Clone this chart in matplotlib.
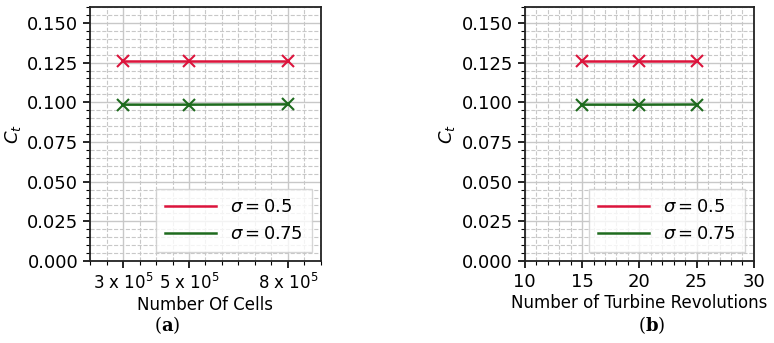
import matplotlib
matplotlib.use('Agg')
import matplotlib.pyplot as plt
from matplotlib.ticker import MultipleLocator, FixedLocator

plt.rcParams['font.family'] = ['DejaVu Sans']
plt.rcParams['mathtext.fontset'] = 'dejavusans'

# data
cells = [3e5, 5e5, 8e5]
cells_labels = [r'3 x $10^5$', r'5 x $10^5$', r'8 x $10^5$']
revs = [15, 20, 25]
ct_cells_05 = [0.126, 0.126, 0.126]
ct_cells_075 = [0.0985, 0.0985, 0.0987]
ct_revs_05 = [0.126, 0.126, 0.126]
ct_revs_075 = [0.0985, 0.0985, 0.0986]

red = '#dc143c'
green = '#1e6b1e'

fig = plt.figure(figsize=(7.74, 3.43), dpi=100)
ax1 = fig.add_axes([0.1163, 0.239, 0.2984, 0.7405])
ax2 = fig.add_axes([0.678, 0.239, 0.296, 0.7405])


def draw(ax, x, y, color, label):
    # line in legend without the markers
    ax.plot(x, y, color=color, lw=1.8, label=label)
    ax.plot(x, y, ls='none', color=color, marker='x', ms=8, mew=1.5)


def style(ax):
    ax.set_ylim(0, 0.16)
    ax.yaxis.set_major_locator(MultipleLocator(0.025))
    ax.yaxis.set_minor_locator(MultipleLocator(0.005))
    ax.grid(which='major', color='#c8c8c8', lw=1.0)
    ax.grid(which='minor', color='#c8c8c8', lw=0.8, ls='--')
    ax.set_axisbelow(True)
    ax.tick_params(which='major', labelsize=13, length=5, width=1.2)
    ax.tick_params(which='minor', length=3, width=0.8)
    ax.set_ylabel(r'$C_t$', fontsize=13, labelpad=3)
    for s in ax.spines.values():
        s.set_linewidth(1.3)
        s.set_color('#222222')
    ax.legend(loc='lower right', fontsize=13, handlelength=2.8,
              borderpad=0.5, fancybox=False, framealpha=0.8)


draw(ax1, cells, ct_cells_05, red, r'$\sigma = 0.5$')
draw(ax1, cells, ct_cells_075, green, r'$\sigma = 0.75$')
ax1.set_xlim(2e5, 9e5)
ax1.xaxis.set_major_locator(FixedLocator(cells))
ax1.set_xticklabels(cells_labels)
ax1.xaxis.set_minor_locator(MultipleLocator(0.5e5))
ax1.set_xlabel('Number Of Cells', fontsize=12, labelpad=2)
style(ax1)
ax1.tick_params(axis='x', which='major', labelsize=12)

draw(ax2, revs, ct_revs_05, red, r'$\sigma = 0.5$')
draw(ax2, revs, ct_revs_075, green, r'$\sigma = 0.75$')
ax2.set_xlim(10, 30)
ax2.xaxis.set_major_locator(MultipleLocator(5))
ax2.xaxis.set_minor_locator(MultipleLocator(1))
ax2.set_xlabel('Number of Turbine Revolutions', fontsize=12, labelpad=2)
style(ax2)

fig.text(0.216, 0.052, r'$(\mathbf{a})$', fontsize=13, math_fontfamily='dejavuserif',
         ha='center', va='center')
fig.text(0.842, 0.052, r'$(\mathbf{b})$', fontsize=13, math_fontfamily='dejavuserif',
         ha='center', va='center')

fig.savefig('out.png', dpi=100)
